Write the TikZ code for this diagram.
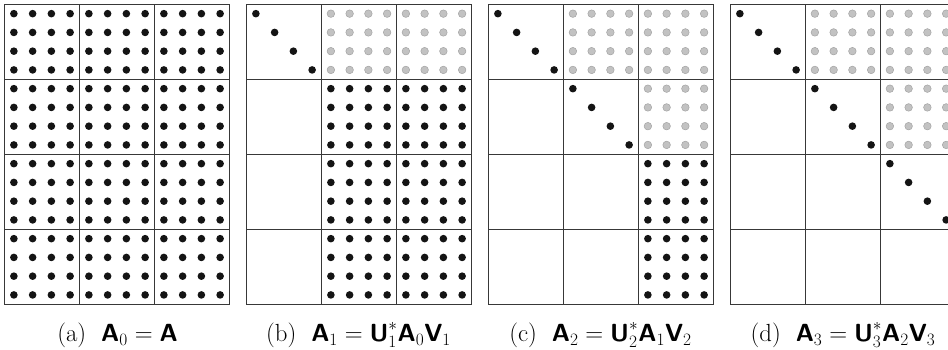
\RequirePackage{fix-cm}
\documentclass[tikz,border=0pt]{standalone}
\usepackage{amsmath}
\newcommand{\bsf}[1]{\text{\sffamily\bfseries #1}}
\tikzset{
  x=1pt,y=1pt,
  blackdot/.style={fill=black!92},
  graydot/.style={fill=black!24, draw=black!36, line width=0.5pt},
  gridline/.style={draw=black!78, line width=1.1pt},
  caption/.style={font=\fontsize{24.8}{29}\selectfont, inner sep=0pt, anchor=base}
}
\newcommand{\dotblock}[4]{%
  \foreach \i in {0,...,3}{\foreach \j in {0,...,3}{
    \path[#4] ({4.5+242*#1+75*#3+9.375+18.75*\i},{345.7-75*#2-9.375-18.75*\j}) circle[radius=3.8];
  }}}
\newcommand{\diagblock}[3]{%
  \foreach \i in {0,...,3}{
    \path[blackdot] ({4.5+242*#1+75*#3+9.375+18.75*\i},{345.7-75*#2-9.375-18.75*\i}) circle[radius=3.8];
  }}
\newcommand{\matgrid}[1]{%
  \pgfmathsetmacro{\xo}{4.5+242*#1}
  \draw[gridline] (\xo,45.7) rectangle (\xo+225,345.7);
  \foreach \k in {1,2}{\draw[gridline] (\xo+75*\k,45.7) -- (\xo+75*\k,345.7);}
  \foreach \k in {1,2,3}{\draw[gridline] (\xo,345.7-75*\k) -- (\xo+225,345.7-75*\k);}
}
\begin{document}
\begin{tikzpicture}
\useasboundingbox (0,0) rectangle (948,350);
\clip (0,0) rectangle (948,350);
% (a)
\foreach \r in {0,...,3}{\foreach \c in {0,1,2}{\dotblock{0}{\r}{\c}{blackdot}}}
\matgrid{0}
% (b)
\diagblock{1}{0}{0}
\dotblock{1}{0}{1}{graydot}
\dotblock{1}{0}{2}{graydot}
\foreach \r in {1,2,3}{\foreach \c in {1,2}{\dotblock{1}{\r}{\c}{blackdot}}}
\matgrid{1}
% (c)
\diagblock{2}{0}{0}
\dotblock{2}{0}{1}{graydot}
\dotblock{2}{0}{2}{graydot}
\diagblock{2}{1}{1}
\dotblock{2}{1}{2}{graydot}
\dotblock{2}{2}{2}{blackdot}
\dotblock{2}{3}{2}{blackdot}
\matgrid{2}
% (d)
\diagblock{3}{0}{0}
\dotblock{3}{0}{1}{graydot}
\dotblock{3}{0}{2}{graydot}
\diagblock{3}{1}{1}
\dotblock{3}{1}{2}{graydot}
\diagblock{3}{2}{2}
\matgrid{3}
% captions
\node[caption] (capa) at (117.5,8.5) {(a)\ \ $\bsf{A}_0=\bsf{A}$};
\node[caption] (capb) at (358.5,8.5) {(b)\ \ $\bsf{A}_1=\bsf{U}_1^*\bsf{A}_0\bsf{V}_1$};
\node[caption] (capc) at (600.5,8.5) {(c)\ \ $\bsf{A}_2=\bsf{U}_2^*\bsf{A}_1\bsf{V}_2$};
\node[caption] (capd) at (843,8.5) {(d)\ \ $\bsf{A}_3=\bsf{U}_3^*\bsf{A}_2\bsf{V}_3$};
\end{tikzpicture}
\end{document}
